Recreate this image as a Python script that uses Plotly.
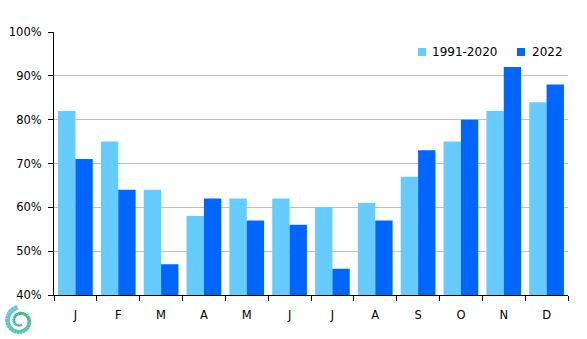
import math
import plotly.graph_objects as go

months = ["J", "F", "M", "A", "M", "J", "J", "A", "S", "O", "N", "D"]
normal_1991_2020 = [82, 75, 64, 58, 62, 62, 60, 61, 67, 75, 82, 84]
year_2022 = [71, 64, 47, 62, 57, 56, 46, 57, 73, 80, 92, 88]
series_names = ["1991-2020", "2022"]
colors = ["#66CCFF", "#0066FF"]

W, H = 587, 339
ML, MR, MT, MB = 54, 19, 32, 44
PW, PH = W - ML - MR, H - MT - MB

# unique category ids so repeated month letters stay separate
cats = [f"{i}" for i in range(len(months))]

fig = go.Figure()
for name, vals, col in zip(series_names, [normal_1991_2020, year_2022], colors):
    fig.add_trace(go.Bar(x=cats, y=[v / 100 for v in vals], name=name,
                         marker=dict(color=col, line=dict(width=0)),
                         showlegend=False))

tf = dict(family="DejaVu Sans", size=11.5, color="#000000")

fig.update_layout(
    width=W, height=H,
    margin=dict(l=ML, r=MR, t=MT, b=MB, autoexpand=False),
    paper_bgcolor="white", plot_bgcolor="white",
    barmode="group", bargap=0.19, bargroupgap=0,
    font=tf,
    xaxis=dict(
        type="category", tickmode="array", tickvals=cats, ticktext=months,
        tickson="boundaries", ticks="outside", ticklen=5, tickcolor="#000",
        showline=True, linecolor="#000", linewidth=1, showgrid=False,
        tickfont=tf, ticklabelstandoff=9, automargin=False,
    ),
    yaxis=dict(
        range=[0.4, 1.0], dtick=0.1, tickformat=".0%",
        ticks="outside", ticklen=5, tickcolor="#000",
        showline=True, linecolor="#000", linewidth=1,
        showgrid=True, gridcolor="#C0C0C0", gridwidth=1,
        zeroline=False, ticklabelstandoff=4, automargin=False,
        tickfont=tf,
    ),
)


def px_to_paper(x, y):
    return (x - ML) / PW, (H - MB - y) / PH


# legend drawn as squares + labels
legend_items = [(418, 430), (517, 530)]
for (sx, tx), name, col in zip(legend_items, series_names, colors):
    x0, y0 = px_to_paper(sx, 56)
    x1, y1 = px_to_paper(sx + 8, 48)
    fig.add_shape(type="rect", xref="paper", yref="paper", x0=x0, x1=x1, y0=y0, y1=y1,
                  fillcolor=col, line=dict(width=0))
    ax, ay = px_to_paper(tx, 52)
    fig.add_annotation(xref="paper", yref="paper", x=ax, y=ay, text=name,
                       showarrow=False, xanchor="left", yanchor="middle",
                       font=dict(family="DejaVu Sans", size=12, color="#000"))

# small swirl emblem in the lower-left corner, shaded from light blue to green
cx, cy = 20, 321
n = 40
c0 = (110, 197, 224)
c1 = (60, 179, 139)
for i in range(n):
    seg = []
    for t in (i / n, (i + 1) / n):
        ang = math.radians(100 + 560 * t)
        r = 14 - 10 * t
        seg.append(px_to_paper(cx + r * math.cos(ang), cy - r * math.sin(ang)))
    f = i / (n - 1)
    col = tuple(round(a + (b - a) * min(1, f * 1.6)) for a, b in zip(c0, c1))
    w = 5 - 3 * f
    fig.add_shape(type="line", xref="paper", yref="paper",
                  x0=seg[0][0], y0=seg[0][1], x1=seg[1][0], y1=seg[1][1],
                  line=dict(color=f"rgb{col}", width=w))

fig.write_html("out.html")
